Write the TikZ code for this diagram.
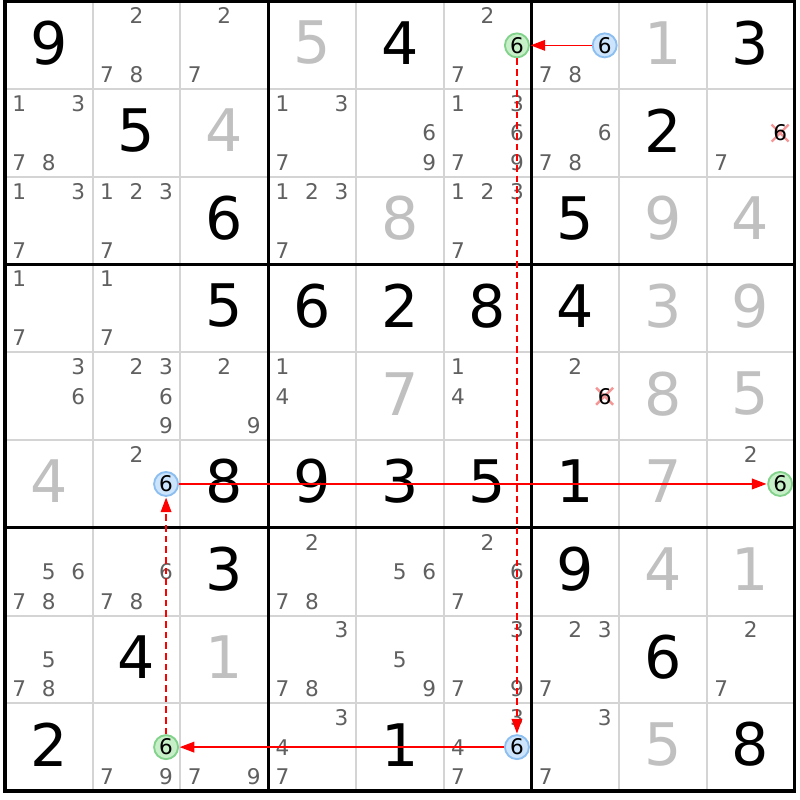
\documentclass[tikz,border=0pt]{standalone}
\usepackage{fontspec}
\setmainfont{DejaVu Sans}
\usetikzlibrary{arrows.meta}
\definecolor{candc}{RGB}{96,96,96}
\definecolor{solvc}{RGB}{192,192,192}
\definecolor{gridc}{RGB}{212,212,212}
\definecolor{gfill}{RGB}{200,240,200}
\definecolor{gdraw}{RGB}{130,210,140}
\definecolor{bfill}{RGB}{204,228,252}
\definecolor{bdraw}{RGB}{140,190,240}
\definecolor{xcol}{RGB}{245,150,150}
\definecolor{linkc}{RGB}{255,0,0}
\newcommand\gdig[4]{\node[#4] (g#1#2) at ({5+(#2+0.5)*87.72},{1.5+(#1+0.5)*87.72-2.5}) {#3};}
\newcommand\cands[3]{\foreach \d in {#3}{\node[cand] (k#1#2\d) at ({5+(#2+0.5)*87.72+(mod(\d-1,3)-1)*29.5},{1.5+(#1+0.5)*87.72+(floor((\d-1)/3)-1)*29.5}) {\d};}}
\newcommand\scand[4]{\node[cand,#4] (k#1#2#3) at ({5+(#2+0.5)*87.72+(mod(#3-1,3)-1)*29.5},{1.5+(#1+0.5)*87.72+(floor((#3-1)/3)-1)*29.5}) {#3};}
\newcommand\xcand[3]{\coordinate (p#1#2#3) at ({5+(#2+0.5)*87.72+(mod(#3-1,3)-1)*29.5},{1.5+(#1+0.5)*87.72+(floor((#3-1)/3)-1)*29.5});
\draw[xmark] ([shift={(-8.5,-8.5)}]p#1#2#3) -- ([shift={(8.5,8.5)}]p#1#2#3);
\draw[xmark] ([shift={(-8.5,8.5)}]p#1#2#3) -- ([shift={(8.5,-8.5)}]p#1#2#3);
\node[cand,text=black] (k#1#2#3) at (p#1#2#3) {#3};}
\begin{document}
\begin{tikzpicture}[x=0.75pt,y=-0.75pt,
  given/.style={font=\fontsize{44}{46}\selectfont,text=black,inner sep=0pt},
  solved/.style={font=\fontsize{44}{46}\selectfont,text=solvc,inner sep=0pt},
  cand/.style={font=\fontsize{16.2}{17}\selectfont,text=candc,inner sep=0pt},
  gc/.style={circle,text=black,fill=gfill,draw=gdraw,line width=1.4pt,minimum size=18pt},
  bc/.style={circle,text=black,fill=bfill,draw=bdraw,line width=1.4pt,minimum size=18pt},
  xmark/.style={draw=xcol,line width=1.8pt},
  link/.style={draw=linkc,line width=1.2pt,-{Triangle[length=11pt,width=8pt]},shorten >=0.5pt},
  dlink/.style={link,dash pattern=on 5pt off 3pt},
  gridthin/.style={draw=gridc,line width=1.5pt},
  gridthick/.style={draw=black,line width=2.4pt}]
\useasboundingbox (0,0) rectangle (800,800);
\fill[white] (0,0) rectangle (800,800);
\foreach \i in {1,2,4,5,7,8}{
  \draw[gridthin] ({5+\i*87.72},1.5) -- ({5+\i*87.72},791);
  \draw[gridthin] (5,{1.5+\i*87.72}) -- (794.5,{1.5+\i*87.72});
}
\foreach \i in {3,6}{
  \draw[gridthick] ({5+\i*87.72},1.5) -- ({5+\i*87.72},791);
  \draw[gridthick] (5,{1.5+\i*87.72}) -- (794.5,{1.5+\i*87.72});
}
\draw[gridthick] (5,1.5) rectangle (794.5,791);
% row 0
\gdig{0}{0}{9}{given}\gdig{0}{3}{5}{solved}\gdig{0}{4}{4}{given}\gdig{0}{7}{1}{solved}\gdig{0}{8}{3}{given}
\cands{0}{1}{2,7,8}\cands{0}{2}{2,7}\cands{0}{5}{2,7}\scand{0}{5}{6}{gc}\cands{0}{6}{7,8}\scand{0}{6}{6}{bc}
% row 1
\gdig{1}{1}{5}{given}\gdig{1}{2}{4}{solved}\gdig{1}{7}{2}{given}
\cands{1}{0}{1,3,7,8}\cands{1}{3}{1,3,7}\cands{1}{4}{6,9}\cands{1}{5}{1,3,6,7,9}\cands{1}{6}{6,7,8}\cands{1}{8}{7}\xcand{1}{8}{6}
% row 2
\gdig{2}{2}{6}{given}\gdig{2}{4}{8}{solved}\gdig{2}{6}{5}{given}\gdig{2}{7}{9}{solved}\gdig{2}{8}{4}{solved}
\cands{2}{0}{1,3,7}\cands{2}{1}{1,2,3,7}\cands{2}{3}{1,2,3,7}\cands{2}{5}{1,2,3,7}
% row 3
\gdig{3}{2}{5}{given}\gdig{3}{3}{6}{given}\gdig{3}{4}{2}{given}\gdig{3}{5}{8}{given}\gdig{3}{6}{4}{given}\gdig{3}{7}{3}{solved}\gdig{3}{8}{9}{solved}
\cands{3}{0}{1,7}\cands{3}{1}{1,7}
% row 4
\gdig{4}{4}{7}{solved}\gdig{4}{7}{8}{solved}\gdig{4}{8}{5}{solved}
\cands{4}{0}{3,6}\cands{4}{1}{2,3,6,9}\cands{4}{2}{2,9}\cands{4}{3}{1,4}\cands{4}{5}{1,4}\cands{4}{6}{2}\xcand{4}{6}{6}
% row 5
\gdig{5}{0}{4}{solved}\gdig{5}{2}{8}{given}\gdig{5}{3}{9}{given}\gdig{5}{4}{3}{given}\gdig{5}{5}{5}{given}\gdig{5}{6}{1}{given}\gdig{5}{7}{7}{solved}
\cands{5}{1}{2}\scand{5}{1}{6}{bc}\cands{5}{8}{2}\scand{5}{8}{6}{gc}
% row 6
\gdig{6}{2}{3}{given}\gdig{6}{6}{9}{given}\gdig{6}{7}{4}{solved}\gdig{6}{8}{1}{solved}
\cands{6}{0}{5,6,7,8}\cands{6}{1}{6,7,8}\cands{6}{3}{2,7,8}\cands{6}{4}{5,6}\cands{6}{5}{2,6,7}
% row 7
\gdig{7}{1}{4}{given}\gdig{7}{2}{1}{solved}\gdig{7}{7}{6}{given}
\cands{7}{0}{5,7,8}\cands{7}{3}{3,7,8}\cands{7}{4}{5,9}\cands{7}{5}{3,7,9}\cands{7}{6}{2,3,7}\cands{7}{8}{2,7}
% row 8
\gdig{8}{0}{2}{given}\gdig{8}{4}{1}{given}\gdig{8}{7}{5}{solved}\gdig{8}{8}{8}{given}
\cands{8}{1}{7,9}\scand{8}{1}{6}{gc}\cands{8}{2}{7,9}\cands{8}{3}{3,4,7}\cands{8}{5}{3,4,7}\scand{8}{5}{6}{bc}\cands{8}{6}{3,7}
% links
\draw[link] (k066.west) -- (k056.east);
\draw[dlink] (k056) -- (k856);
\draw[link] (k856) -- (k816);
\draw[dlink] (k816) -- (k516);
\draw[link] (k516) -- (k586);
\end{tikzpicture}
\end{document}
